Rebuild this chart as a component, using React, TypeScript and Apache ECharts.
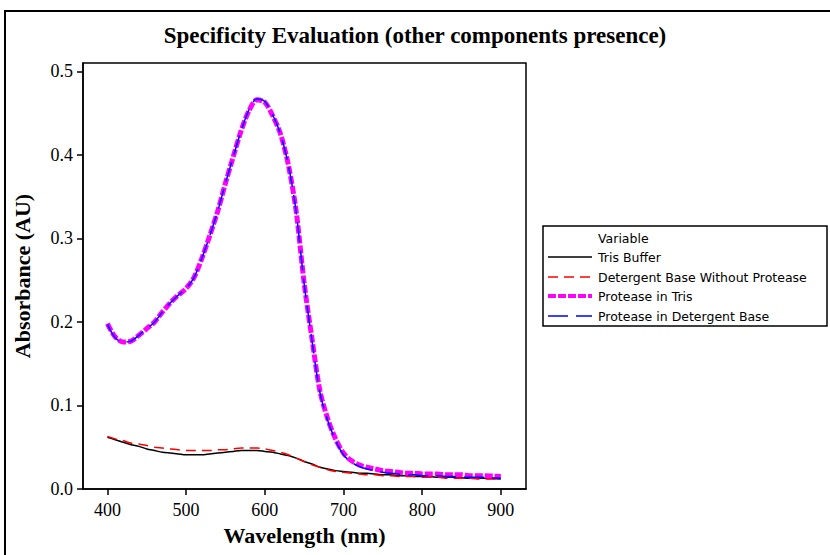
import React, { useEffect, useRef } from "react";
import * as echarts from "echarts";

const wavelengths = [
  400, 410, 420, 430, 440, 450, 460, 470, 480, 490, 500, 510, 520, 530, 540, 550, 560, 570, 580, 590,
  600, 610, 620, 630, 640, 650, 660, 670, 680, 690, 700, 710, 720, 730, 740, 750, 760, 770, 780, 790,
  800, 810, 820, 830, 840, 850, 860, 870, 880, 890, 900,
];

const trisBuffer = [
  0.062, 0.059, 0.056, 0.053, 0.051, 0.048, 0.046, 0.044, 0.043, 0.042, 0.041, 0.041, 0.041, 0.042, 0.043,
  0.044, 0.045, 0.046, 0.046, 0.046, 0.045, 0.044, 0.042, 0.04, 0.037, 0.033, 0.03, 0.026, 0.024, 0.022,
  0.021, 0.02, 0.019, 0.019, 0.018, 0.017, 0.017, 0.016, 0.016, 0.015, 0.015, 0.015, 0.014, 0.014, 0.014,
  0.0135, 0.013, 0.013, 0.0128, 0.0125, 0.012,
];

const detergentBase = [
  0.063, 0.06, 0.058, 0.055, 0.054, 0.052, 0.05, 0.049, 0.048, 0.047, 0.046, 0.046, 0.046, 0.046, 0.047,
  0.047, 0.048, 0.049, 0.049, 0.049, 0.048, 0.046, 0.044, 0.041, 0.037, 0.033, 0.029, 0.026, 0.023, 0.021,
  0.02, 0.019, 0.018, 0.017, 0.017, 0.016, 0.016, 0.015, 0.015, 0.015, 0.014, 0.014, 0.014, 0.013, 0.013,
  0.013, 0.013, 0.012, 0.012, 0.012, 0.012,
];

const proteaseInTris = [
  0.198, 0.182, 0.176, 0.177, 0.184, 0.192, 0.2, 0.212, 0.223, 0.232, 0.24, 0.253, 0.276, 0.303, 0.332,
  0.366, 0.398, 0.429, 0.453, 0.466, 0.463, 0.447, 0.425, 0.388, 0.332, 0.247, 0.18, 0.118, 0.084, 0.06,
  0.043, 0.034, 0.029, 0.026, 0.024, 0.022, 0.021, 0.02, 0.019, 0.019, 0.018, 0.018, 0.018, 0.017, 0.017,
  0.017, 0.016, 0.016, 0.016, 0.0155, 0.015,
];

const proteaseInDetergent = [
  0.197, 0.181, 0.176, 0.177, 0.184, 0.192, 0.2, 0.212, 0.223, 0.232, 0.24, 0.253, 0.276, 0.303, 0.332,
  0.366, 0.398, 0.429, 0.454, 0.467, 0.464, 0.448, 0.425, 0.388, 0.331, 0.246, 0.178, 0.116, 0.082, 0.058,
  0.041, 0.032, 0.027, 0.024, 0.022, 0.02, 0.019, 0.018, 0.017, 0.017, 0.016, 0.016, 0.016, 0.015, 0.015,
  0.014, 0.014, 0.014, 0.014, 0.0135, 0.013,
];

const seriesNames = [
  "Tris Buffer",
  "Detergent Base Without Protease",
  "Protease in Tris",
  "Protease in Detergent Base",
];
const xTicks = [400, 500, 600, 700, 800, 900];
const yTicks = [0, 0.1, 0.2, 0.3, 0.4, 0.5];

const colors = ["#000000", "#ff0000", "#ff00ff", "#0000ff"];
const widths = [1.5, 1.5, 5, 1.5];
const dashes: any[] = ["solid", [10, 6], [8, 2], [20, 8]];

export default function App() {
  const ref = useRef<HTMLDivElement>(null);
  useEffect(() => {
    if (!ref.current) return;
    const chart = echarts.init(ref.current, undefined, { renderer: "svg" });
    const allData = [trisBuffer, detergentBase, proteaseInTris, proteaseInDetergent];
    const serif = "'Liberation Serif', 'Times New Roman', serif";
    const sans = "'DejaVu Sans', Tahoma, sans-serif";

    const legendX = 543;
    const legendY = 226;
    const rowYs = [257, 277, 296, 316];
    const legendGraphics: any[] = [
      {
        type: "rect",
        shape: { x: legendX, y: legendY, width: 284, height: 100 },
        style: { fill: "#fff", stroke: "#000", lineWidth: 1.5 },
      },
      {
        type: "text",
        x: 598,
        y: 238,
        style: { text: "Variable", font: `12.5px ${sans}`, fill: "#000", verticalAlign: "middle" },
      },
    ];
    seriesNames.forEach((n, i) => {
      legendGraphics.push({
        type: "line",
        shape: { x1: 548, y1: rowYs[i], x2: 592, y2: rowYs[i] },
        style: {
          stroke: colors[i],
          lineWidth: i === 2 ? 4 : widths[i],
          lineDash: dashes[i] === "solid" ? null : dashes[i],
        },
      });
      legendGraphics.push({
        type: "text",
        x: 598,
        y: rowYs[i],
        style: { text: n, font: `12.5px ${sans}`, fill: "#000", verticalAlign: "middle" },
      });
    });

    chart.setOption({
      animation: false,
      backgroundColor: "#fff",
      title: {
        text: "Specificity Evaluation (other components presence)",
        left: "center",
        top: 24,
        padding: 0,
        textStyle: { fontFamily: serif, fontSize: 23, fontWeight: "bold", color: "#000" },
      },
      grid: {
        left: 83,
        top: 63,
        width: 443,
        height: 426,
        show: true,
        borderColor: "#000",
        borderWidth: 1.5,
        backgroundColor: "transparent",
      },
      xAxis: {
        type: "value",
        min: 369,
        max: 932,
        name: "Wavelength (nm)",
        nameLocation: "middle",
        nameGap: 35,
        nameTextStyle: { fontFamily: serif, fontSize: 22, fontWeight: "bold", color: "#000" },
        axisLine: { show: true, lineStyle: { color: "#000", width: 1.5 } },
        axisTick: { show: true, length: 6, lineStyle: { color: "#000", width: 1.5 }, customValues: xTicks },
        axisLabel: {
          customValues: xTicks,
          margin: 12,
          fontFamily: serif,
          fontSize: 18,
          color: "#000",
        },
        splitLine: { show: false },
      },
      yAxis: {
        type: "value",
        min: 0,
        max: 0.51,
        name: "Absorbance (AU)",
        nameLocation: "middle",
        nameGap: 50,
        nameTextStyle: { fontFamily: serif, fontSize: 22, fontWeight: "bold", color: "#000" },
        axisLine: { show: true, lineStyle: { color: "#000", width: 1.5 } },
        axisTick: { show: true, length: 6, lineStyle: { color: "#000", width: 1.5 }, customValues: yTicks },
        axisLabel: {
          customValues: yTicks,
          margin: 10,
          fontFamily: serif,
          fontSize: 18,
          color: "#000",
          formatter: (v: number) => v.toFixed(1),
        },
        splitLine: { show: false },
      },
      series: seriesNames.map((n, i) => ({
        name: n,
        type: "line",
        data: wavelengths.map((w, j) => [w, allData[i][j]]),
        showSymbol: false,
        smooth: 0.3,
        lineStyle: { color: colors[i], width: widths[i], type: dashes[i] },
        z: 2 + i,
      })),
      graphic: [
        {
          type: "rect",
          shape: { x: 5, y: 11, width: 840, height: 560 },
          style: { fill: "none", stroke: "#000", lineWidth: 2 },
          silent: true,
        },
        ...legendGraphics,
      ],
    });
    return () => chart.dispose();
  }, []);
  return (
    <div
      ref={ref}
      style={{ position: "fixed", left: 0, top: 0, width: 830, height: 555, background: "#fff" }}
    />
  );
}
